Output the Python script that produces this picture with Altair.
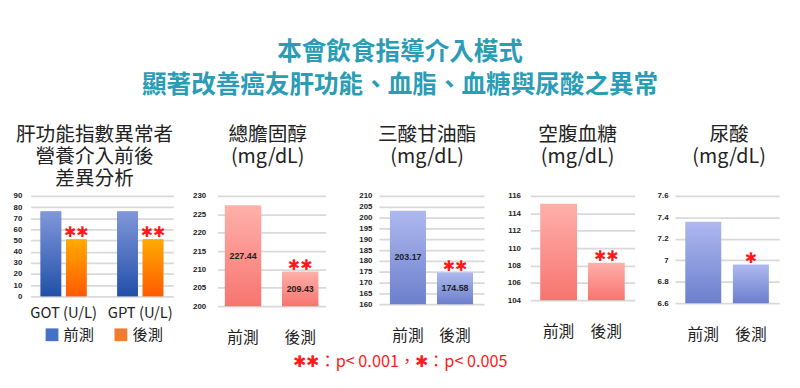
import altair as alt
import pandas as pd

# ---------------- data ----------------
phases = ["前測", "後測"]

liver_tests = ["GOT (U/L)", "GPT (U/L)"]
liver_pre = [76, 76]
liver_post = [51, 51]
liver_ticks = [0, 10, 20, 30, 40, 50, 60, 70, 80, 90]
liver_title = "肝功能指數異常者\n營養介入前後\n差異分析"

chol_title = "總膽固醇\n(mg/dL)"
chol_values = [227.44, 209.43]
chol_ticks = [200, 205, 210, 215, 220, 225, 230]
chol_stars = ["", "✱✱"]

tg_title = "三酸甘油酯\n(mg/dL)"
tg_values = [203.17, 174.58]
tg_ticks = [160, 165, 170, 175, 180, 185, 190, 195, 200, 205, 210]
tg_stars = ["", "✱✱"]

glu_title = "空腹血糖\n(mg/dL)"
glu_values = [115.1, 108.3]
glu_ticks = [104, 106, 108, 110, 112, 114, 116]
glu_stars = ["", "✱✱"]

ua_title = "尿酸\n(mg/dL)"
ua_values = [7.36, 6.96]
ua_ticks = [6.6, 6.8, 7.0, 7.2, 7.4, 7.6]
ua_stars = ["", "✱"]

main_title = ["本會飲食指導介入模式", "顯著改善癌友肝功能、血脂、血糖與尿酸之異常"]
note_text = "✱✱：p< 0.001，✱：p< 0.005"

# ---------------- styles ----------------
CJK = "Noto Sans CJK TC"
NUM = "Liberation Sans"
STAR = "DejaVu Sans"
TEAL = "#2a9cb6"
RED = "#ff1a1a"
GRID = "#d9d9d9"
TITLE_Y = -62


def grad(top, bottom):
    return alt.Gradient(
        gradient="linear",
        stops=[alt.GradientStop(color=top, offset=0), alt.GradientStop(color=bottom, offset=1)],
        x1=0, x2=0, y1=0, y2=1,
    )


PINK = grad("#ffb0aa", "#f77470")
PURPLE = grad("#aeb9f0", "#6c7fcc")
BLUE = grad("#8197da", "#2150a8")
ORANGE = grad("#ffaa00", "#ff5a00")


def y_axis(ticks, pad, extent, fmt="~f"):
    return alt.Axis(
        values=ticks, tickCount=len(ticks), labelOverlap=False, title=None,
        labelFont=NUM, labelFontWeight="bold",
        labelFontSize=8, labelColor="#222", labelPadding=pad, minExtent=extent,
        domain=False, ticks=False, grid=True, gridColor=GRID, gridWidth=1.8, format=fmt,
    )


def title_layer(text, tx):
    return alt.Chart(pd.DataFrame({"t": [text]})).mark_text(
        font=CJK, fontSize=20, color="#222", lineBreak="\n", lineHeight=22.5,
        baseline="middle", align="center",
    ).encode(text="t:N", x=alt.value(tx), y=alt.value(TITLE_Y))


# ---------------- panel 1 ----------------
df1 = pd.DataFrame({
    "test": liver_tests * 2,
    "phase": [phases[0]] * 2 + [phases[1]] * 2,
    "value": liver_pre + liver_post,
    "star": ["", ""] + ["✱✱", "✱✱"],
})

x1 = alt.X("test:N", sort=liver_tests,
           scale=alt.Scale(paddingInner=0.4, paddingOuter=0.13),
           axis=alt.Axis(title=None, labelAngle=0, labelFont=CJK, labelFontSize=15,
                         labelColor="#222", labelPadding=10, domain=False, ticks=False))
xo1 = alt.XOffset("phase:N", sort=phases,
                  scale=alt.Scale(domain=phases, paddingInner=0.19, paddingOuter=0))
y1 = alt.Y("value:Q", scale=alt.Scale(domain=[liver_ticks[0], liver_ticks[-1]]),
           axis=y_axis(liver_ticks, 9, 17))

base1 = alt.Chart(df1).mark_bar().encode(
    x=x1, xOffset=xo1, y=y1,
    color=alt.Color("phase:N", sort=phases,
                    scale=alt.Scale(domain=phases, range=["#4472c4", "#ed7d31"]),
                    legend=alt.Legend(title=None, orient="none", legendX=14, legendY=133,
                                      direction="horizontal", symbolType="square",
                                      symbolSize=169, symbolStrokeWidth=0,
                                      labelFont=CJK, labelFontSize=15.5, labelColor="#222",
                                      labelOffset=4, columnPadding=19)),
)
pre1 = alt.Chart(df1).transform_filter(alt.datum.phase == phases[0]).mark_bar(color=BLUE).encode(
    x=x1, xOffset=xo1, y=y1)
post1 = alt.Chart(df1).transform_filter(alt.datum.phase == phases[1]).mark_bar(color=ORANGE).encode(
    x=x1, xOffset=xo1, y=y1)
star1 = alt.Chart(df1).mark_text(font=STAR, fontSize=15, fontWeight="bold", color=RED,
                                 baseline="middle", dy=-7).encode(
    x=x1, xOffset=xo1, y=y1, text="star:N")

panel1 = alt.layer(base1, pre1, post1, star1, title_layer(liver_title, 65)).properties(
    width=145, height=102)


# ---------------- panels 2-5 ----------------
def panel(title, values, ticks, stars, fill, width, height, lpad, extent,
          pi, po, tx, show_values, fmt="~f"):
    df = pd.DataFrame({"phase": phases, "value": values, "star": stars,
                       "base": [ticks[0]] * 2})
    x = alt.X("phase:N", sort=phases, scale=alt.Scale(paddingInner=pi, paddingOuter=po),
              axis=alt.Axis(title=None, labelAngle=0, labelFont=CJK, labelFontSize=16,
                            labelColor="#222", labelPadding=24, domain=False, ticks=False))
    y = alt.Y("value:Q", scale=alt.Scale(domain=[ticks[0], ticks[-1]], zero=False),
              axis=y_axis(ticks, lpad, extent, fmt))
    bars = alt.Chart(df).mark_bar(color=fill).encode(x=x, y=y, y2="base:Q")
    stars_l = alt.Chart(df).mark_text(font=STAR, fontSize=15, fontWeight="bold", color=RED,
                                      baseline="middle", dy=-7).encode(x=x, y=y, text="star:N")
    layers = [bars, stars_l]
    if show_values:
        vals = alt.Chart(df).transform_calculate(
            mid="(datum.value + datum.base) / 2"
        ).mark_text(font=NUM, fontSize=9, fontWeight="bold", color="#222",
                    baseline="middle").encode(
            x=x, y=alt.Y("mid:Q"), text=alt.Text("value:Q", format=".2f"))
        layers.append(vals)
    layers.append(title_layer(title, tx))
    return alt.layer(*layers).properties(width=width, height=height)


panel2 = panel(chol_title, chol_values, chol_ticks, chol_stars, PINK, 110, 112,
               12, 45, 0.363, 0.128, 51, True)
panel3 = panel(tg_title, tg_values, tg_ticks, tg_stars, PURPLE, 107, 110,
               7, 54, 0.234, 0.236, 49, True)
panel4 = panel(glu_title, glu_values, glu_ticks, glu_stars, PINK, 106, 106,
               10, 46.5, 0.229, 0.207, 48, False)
panel5 = panel(ua_title, ua_values, ua_ticks, ua_stars, PURPLE, 106, 109,
               7, 40.5, 0.244, 0.217, 55, False)

row = alt.hconcat(panel1, panel2, panel3, panel4, panel5, spacing=0)

note = alt.Chart(pd.DataFrame({"t": [note_text]})).mark_text(
    font=CJK, fontSize=16.5, color=RED, baseline="middle", align="center",
).encode(text="t:N", x=alt.value(376), y=alt.value(13)).properties(width=769, height=18)

chart = alt.vconcat(row, note, spacing=4).properties(
    title=alt.TitleParams(text=main_title, font=CJK, fontSize=25, fontWeight="bold",
                          color=TEAL, anchor="middle", lineHeight=33, offset=28),
    padding={"top": 30, "left": 5, "right": 5, "bottom": 5},
).configure_view(stroke=None)

chart.save("out.html", embed_options={"renderer": "svg", "actions": False})
